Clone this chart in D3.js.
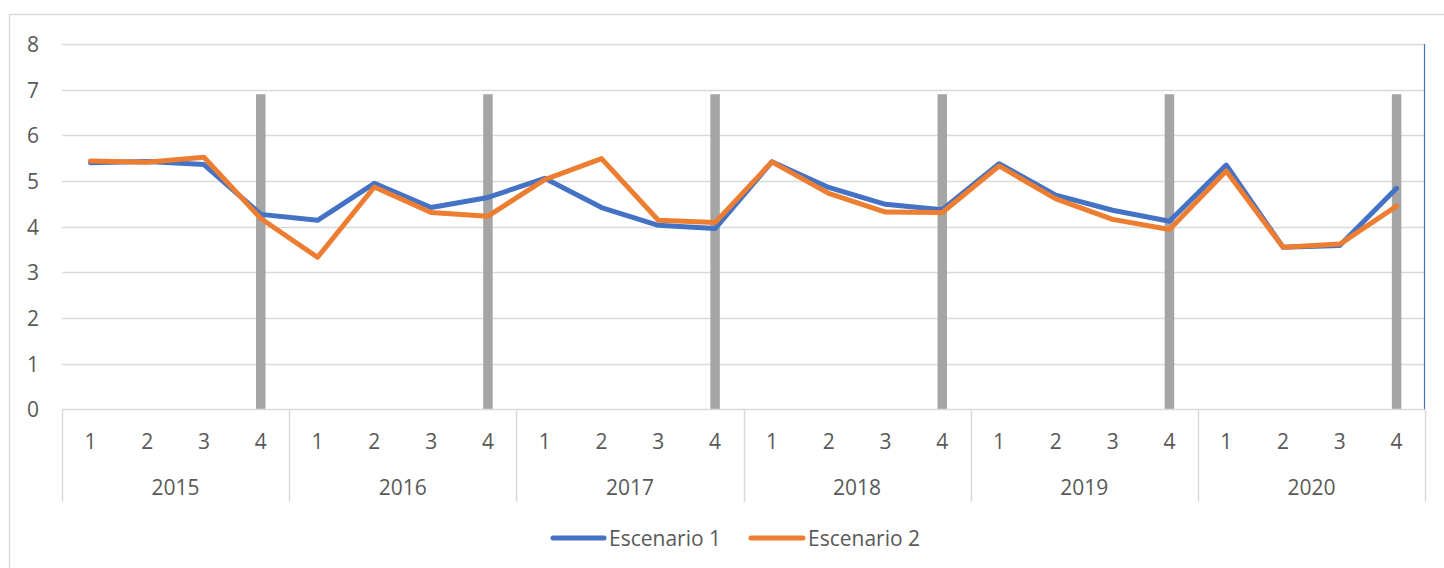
<!DOCTYPE html>
<html>
<head>
<meta charset="utf-8">
<script src="https://cdn.jsdelivr.net/npm/d3@7"></script>
<style>
  html, body { margin: 0; padding: 0; background: #fff; }
  svg { display: block; }
  text { font-family: "Open Sans", sans-serif; fill: #595959; }
</style>
</head>
<body>
<svg id="chart" width="1444" height="568"></svg>
<script>
const years = ["2015", "2016", "2017", "2018", "2019", "2020"];
const quarters = ["1", "2", "3", "4"];
const escenario1 = [5.40, 5.43, 5.36, 4.27, 4.14, 4.95, 4.42, 4.64, 5.06, 4.42, 4.03, 3.96,
                    5.42, 4.86, 4.49, 4.37, 5.38, 4.69, 4.36, 4.12, 5.35, 3.55, 3.59, 4.84];
const escenario2 = [5.44, 5.41, 5.52, 4.18, 3.33, 4.87, 4.31, 4.23, 5.03, 5.49, 4.14, 4.09,
                    5.42, 4.73, 4.32, 4.31, 5.33, 4.61, 4.16, 3.94, 5.22, 3.55, 3.62, 4.45];
const markerBars = [0, 0, 0, 6.9, 0, 0, 0, 6.9, 0, 0, 0, 6.9,
                    0, 0, 0, 6.9, 0, 0, 0, 6.9, 0, 0, 0, 6.9];
const yTicks = [0, 1, 2, 3, 4, 5, 6, 7, 8];
const seriesNames = ["Escenario 1", "Escenario 2"];

(function () {
const categories = [];
years.forEach(yy => quarters.forEach(q => categories.push(yy + "-" + q)));

const svg = d3.select("#chart");
const pLeft = 62, pRight = 1425, pTop = 44, pBottom = 409.4;

const x = d3.scaleBand().domain(categories).range([pLeft, pRight]).padding(0);
const y = d3.scaleLinear().domain([0, 8]).range([pBottom, pTop]);
const yearScale = d3.scaleBand().domain(years).range([pLeft, pRight]);

// outer chart border
svg.append("rect")
  .attr("x", 9.5).attr("y", 14.5).attr("width", 1500).attr("height", 600)
  .attr("fill", "none").attr("stroke", "#D9D9D9").attr("stroke-width", 1.5);

// gridlines
svg.append("g").selectAll("line").data(yTicks.filter(d => d > 0)).join("line")
  .attr("x1", pLeft).attr("x2", pRight)
  .attr("y1", d => Math.round(y(d)) + 0.5).attr("y2", d => Math.round(y(d)) + 0.5)
  .attr("stroke", "#D9D9D9").attr("stroke-width", 1.5);

// y tick labels
svg.append("g").selectAll("text").data(yTicks).join("text")
  .attr("x", 39).attr("y", d => y(d))
  .attr("text-anchor", "end").attr("dominant-baseline", "central")
  .attr("font-size", 21).text(d => d);

// gray marker bars
const barW = 9.5;
svg.append("g").selectAll("rect")
  .data(markerBars.map((v, i) => ({v, c: categories[i]})).filter(d => d.v > 0)).join("rect")
  .attr("x", d => x(d.c) + x.bandwidth() / 2 - barW / 2)
  .attr("width", barW)
  .attr("y", d => y(d.v))
  .attr("height", d => y(0) - y(d.v))
  .attr("fill", "#A5A5A5");

// x axis line
svg.append("line")
  .attr("x1", pLeft).attr("x2", pRight).attr("y1", 409.5).attr("y2", 409.5)
  .attr("stroke", "#D9D9D9").attr("stroke-width", 1.5);

// group separators
const seps = years.map(yy => yearScale(yy)).concat([pRight]);
svg.append("g").selectAll("line").data(seps).join("line")
  .attr("x1", d => Math.round(d) + 0.5).attr("x2", d => Math.round(d) + 0.5)
  .attr("y1", 409.5).attr("y2", 502)
  .attr("stroke", "#D9D9D9").attr("stroke-width", 1.5);

// quarter labels
svg.append("g").selectAll("text").data(categories).join("text")
  .attr("x", d => x(d) + x.bandwidth() / 2)
  .attr("y", 441)
  .attr("text-anchor", "middle").attr("dominant-baseline", "central")
  .attr("font-size", 21).text(d => d.split("-")[1]);

// year labels
svg.append("g").selectAll("text").data(years).join("text")
  .attr("x", d => yearScale(d) + yearScale.bandwidth() / 2)
  .attr("y", 487)
  .attr("text-anchor", "middle").attr("dominant-baseline", "central")
  .attr("font-size", 21).text(d => d);

// right blue edge line
svg.append("line")
  .attr("x1", 1424.5).attr("x2", 1424.5).attr("y1", pTop).attr("y2", 409)
  .attr("stroke", "#4472C4").attr("stroke-width", 1.2);

// lines
const colors = ["#4472C4", "#ED7D31"];
const line = d3.line()
  .x((d, i) => x(categories[i]) + x.bandwidth() / 2)
  .y(d => y(d));
[escenario1, escenario2].forEach((s, k) => {
  svg.append("path").datum(s)
    .attr("d", line)
    .attr("fill", "none")
    .attr("stroke", colors[k])
    .attr("stroke-width", 5)
    .attr("stroke-linejoin", "round")
    .attr("stroke-linecap", "round");
});

// legend
const legendItems = [{name: seriesNames[0], x1: 553, x2: 604, tx: 609},
                     {name: seriesNames[1], x1: 751, x2: 803, tx: 808}];
const lg = svg.append("g");
legendItems.forEach((it, k) => {
  lg.append("line")
    .attr("x1", it.x1).attr("x2", it.x2).attr("y1", 538).attr("y2", 538)
    .attr("stroke", colors[k]).attr("stroke-width", 5).attr("stroke-linecap", "round");
  lg.append("text")
    .attr("x", it.tx).attr("y", 538)
    .attr("dominant-baseline", "central")
    .attr("font-size", 21).text(it.name);
});
})();
</script>
</body>
</html>
